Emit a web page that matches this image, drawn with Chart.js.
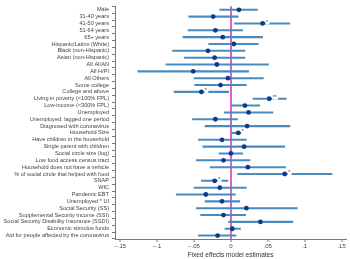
<!DOCTYPE html>
<html>
<head>
<meta charset="utf-8">
<script src="https://cdn.jsdelivr.net/npm/chart.js@4.4.1/dist/chart.umd.min.js"></script>
<style>
  html, body { margin: 0; padding: 0; background: #fff; }
  #wrap { width: 350px; height: 259px; }
</style>
</head>
<body>
<div id="wrap"><canvas id="chart" width="350" height="259"></canvas></div>
<script>
// variable names, top to bottom
const labels = [
  'Male', '31-40 years', '41-50 years', '51-64 years', '65+ years',
  'Hispanic/Latinx (White)', 'Black (non-Hispanic)', 'Asian (non-Hispanic)',
  'All AI/AN', 'All H/PI', 'All Others', 'Some college', 'College and above',
  'Living in poverty (<100% FPL)', 'Low-income (<300% FPL)', 'Unemployed',
  'Unemployed: lagged one period', 'Diagnosed with coronavirus', 'Household Size',
  'Have children in the household', 'Single parent with children',
  'Social circle size (log)', 'Low food access census tract',
  'Household does not have a vehicle', '% of social circle that helped with food',
  'SNAP', 'WIC', 'Pandemic EBT', 'Unemployed * UI', 'Social Security (SS)',
  'Supplemental Security Income (SSI)', 'Social Security Disability Insurance (SSDI)',
  'Economic stimulus funds', 'Aid for people affected by the coronavirus'
];

// point estimates
const estimates = [
  0.011, -0.024, 0.043, -0.021, -0.011,
  0.004, -0.031, -0.022,
  -0.019, -0.051, -0.004, -0.014, -0.040,
  0.052, 0.019, 0.024,
  -0.021, 0.022, 0.010,
  -0.012, 0.018,
  0.000, -0.010,
  0.023, 0.073,
  -0.022, -0.015, -0.034, -0.012, 0.021,
  -0.010, 0.040,
  0.002, -0.018
];

// confidence interval bounds
const ciLow = [
  -0.015, -0.057, 0.005, -0.058, -0.065,
  -0.030, -0.079, -0.063,
  -0.088, -0.126, -0.050, -0.049, -0.077,
  0.030, 0.000, -0.009,
  -0.052, -0.035, 0.001,
  -0.044, -0.038,
  -0.016, -0.047,
  -0.028, 0.009,
  -0.040, -0.050, -0.074, -0.035, -0.047,
  -0.041, -0.003,
  -0.008, -0.044
];
const ciHigh = [
  0.036, 0.010, 0.080, 0.016, 0.043,
  0.037, 0.019, 0.019,
  0.051, 0.024, 0.044, 0.021, -0.003,
  0.075, 0.039, 0.057,
  0.009, 0.080, 0.016,
  0.021, 0.073,
  0.016, 0.026,
  0.074, 0.137,
  -0.004, 0.021, 0.006, 0.012, 0.090,
  0.020, 0.084,
  0.013, 0.007
];

// significance markers
const stars = [
  '', '', '*', '', '',
  '', '', '',
  '', '', '', '', '*',
  '**', '', '',
  '', '', '*',
  '', '',
  '', '',
  '', '*',
  '*', '', '', '', '',
  '', '',
  '', ''
];

const xTicks = [-0.15, -0.1, -0.05, 0, 0.05, 0.1, 0.15];

const FONT = "'Liberation Sans', Arial, Helvetica, sans-serif";
const LINE_COLOR = '#4a8bbd';
const POINT_COLOR = '#0f3a8a';
const ZERO_COLOR = '#de5fcf';

function fmtTick(v) {
  if (Math.abs(v) < 1e-9) return '0';
  let s = Math.abs(v).toFixed(2).replace(/^0/, '').replace(/0$/, '');
  return (v < 0 ? '\u2212' : '') + s;
}

const starPlugin = {
  id: 'stars',
  afterDatasetsDraw(chart) {
    const { ctx, scales } = chart;
    ctx.save();
    ctx.font = '5px ' + FONT;
    ctx.textBaseline = 'middle';
    ctx.textAlign = 'left';
    stars.forEach((s, i) => {
      if (!s) return;
      const x = scales.x.getPixelForValue(estimates[i]) + 3.5;
      const y = scales.y.getPixelForValue(i) - 1;
      const w = ctx.measureText(s).width;
      ctx.fillStyle = '#fff';
      ctx.fillRect(x - 0.5, y - 1, w + 2, 3);
      ctx.fillStyle = POINT_COLOR;
      ctx.fillText(s, x, y);
    });
    ctx.restore();
  }
};

const ctx = document.getElementById('chart').getContext('2d');
new Chart(ctx, {
  data: {
    labels: labels,
    datasets: [
      {
        type: 'bar',
        indexAxis: 'y',
        data: ciLow.map((lo, i) => [lo, ciHigh[i]]),
        backgroundColor: LINE_COLOR,
        barThickness: 1.4,
        borderWidth: 0,
        order: 2
      },
      {
        type: 'line',
        indexAxis: 'y',
        data: estimates,
        showLine: false,
        pointRadius: 2.4,
        pointBackgroundColor: POINT_COLOR,
        pointBorderWidth: 0,
        order: 1
      }
    ]
  },
  options: {
    responsive: false,
    animation: false,
    indexAxis: 'y',
    layout: { padding: { top: 0, right: 0, bottom: 0, left: 0 } },
    plugins: {
      legend: { display: false },
      tooltip: { enabled: false }
    },
    scales: {
      x: {
        type: 'linear',
        min: -0.157,
        max: 0.156,
        afterBuildTicks: (scale) => {
          scale.ticks = xTicks.map(v => ({ value: v }));
        },
        afterFit: (scale) => { scale.height = 20; },
        border: { color: '#777', width: 1 },
        grid: {
          color: (c) => (c.tick && Math.abs(c.tick.value) < 1e-9) ? ZERO_COLOR : 'rgba(0,0,0,0)',
          lineWidth: 2,
          tickColor: '#777',
          tickWidth: 1,
          tickLength: 3
        },
        ticks: {
          color: '#444',
          font: { family: FONT, size: 6 },
          padding: 1,
          maxRotation: 0,
          callback: (v) => fmtTick(v)
        },
        title: {
          display: true,
          text: 'Fixed effects model estimates',
          color: '#333',
          font: { family: FONT, size: 6.5 },
          padding: { top: 1, bottom: 0 }
        }
      },
      y: {
        type: 'category',
        offset: true,
        afterFit: (scale) => { scale.width = 115; },
        border: { color: '#777', width: 1 },
        grid: {
          display: true,
          drawOnChartArea: false,
          color: '#777',
          tickLength: 3
        },
        ticks: {
          color: '#444',
          font: { family: FONT, size: 5.6 },
          padding: 3,
          autoSkip: false
        }
      }
    }
  },
  plugins: [starPlugin]
});
</script>
</body>
</html>
